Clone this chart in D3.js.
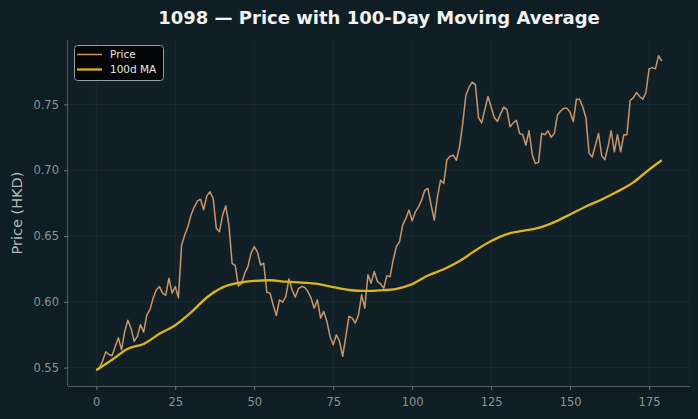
<!DOCTYPE html>
<html>
<head>
<meta charset="utf-8">
<script src="https://cdn.jsdelivr.net/npm/d3@7"></script>
<style>
html, body { margin: 0; padding: 0; background: #0f1e24; }
svg { display: block; font-family: "DejaVu Sans", sans-serif; }
</style>
</head>
<body>
<div id="chart"></div>
<script>
const title = '1098 \u2014 Price with 100-Day Moving Average';
const seriesNames = ['Price', '100d MA'];

// daily close, day 0..179
const price = [
    0.5485, 0.550, 0.555, 0.562, 0.560, 0.559, 0.566, 0.5725, 0.5636, 0.5775,
    0.586, 0.580, 0.570, 0.5737, 0.5826, 0.577, 0.590, 0.594, 0.6028, 0.609,
    0.6116, 0.6066, 0.605, 0.618, 0.6066, 0.6116, 0.603, 0.643, 0.6508, 0.657,
    0.666, 0.672, 0.6765, 0.678, 0.670, 0.6805, 0.6836, 0.6786, 0.656, 0.6533,
    0.666, 0.673, 0.658, 0.6293, 0.6275, 0.612, 0.614, 0.6217, 0.6267, 0.6369,
    0.6419, 0.638, 0.628, 0.6293, 0.6073, 0.6066, 0.5977, 0.5896, 0.6015, 0.5998,
    0.604, 0.6174, 0.609, 0.6036, 0.610, 0.6116, 0.611, 0.6078, 0.6028, 0.5952,
    0.6015, 0.5876, 0.5927, 0.5851, 0.5737, 0.5674, 0.575, 0.570, 0.5586, 0.5737,
    0.5889, 0.5876, 0.5839, 0.590, 0.6053, 0.5952, 0.6205, 0.6142, 0.623, 0.6154,
    0.6136, 0.6104, 0.6199, 0.619, 0.6318, 0.6419, 0.6457, 0.6583, 0.6634, 0.6697,
    0.6614, 0.6684, 0.6722, 0.6773, 0.6848, 0.6861, 0.6735, 0.6621, 0.6798, 0.6924,
    0.6899, 0.708, 0.7106, 0.7114, 0.7076, 0.7177, 0.7355, 0.7568, 0.7631, 0.7669,
    0.765, 0.740, 0.736, 0.746, 0.756, 0.748, 0.740, 0.737, 0.743, 0.748,
    0.746, 0.733, 0.736, 0.738, 0.728, 0.727, 0.719, 0.730, 0.712, 0.705,
    0.706, 0.728, 0.727, 0.730, 0.725, 0.728, 0.742, 0.745, 0.747, 0.747,
    0.744, 0.737, 0.754, 0.754, 0.748, 0.740, 0.713, 0.710, 0.719, 0.728,
    0.711, 0.708, 0.718, 0.730, 0.714, 0.727, 0.714, 0.727, 0.727, 0.753,
    0.755, 0.759, 0.756, 0.754, 0.759, 0.777, 0.778, 0.777, 0.787, 0.783
];

// moving average at these days
const maDays = [0, 5, 10, 15, 20, 25, 30, 35, 40, 45, 50, 55, 60, 65, 70, 75, 80, 85, 90,
    95, 100, 105, 110, 115, 120, 125, 130, 135, 140, 145, 150, 155, 160, 165, 170, 175, 179];
const maValues = [0.548, 0.556, 0.5644, 0.568, 0.5757, 0.5822, 0.592, 0.6033, 0.611, 0.6144,
    0.616, 0.6164, 0.6153, 0.6146, 0.6137, 0.6112, 0.609, 0.6083, 0.6087,
    0.6099, 0.6135, 0.620, 0.6247, 0.631, 0.639, 0.6462, 0.6515, 0.654, 0.6562, 0.6606,
    0.6664, 0.6725, 0.6778, 0.6838, 0.6908, 0.7005, 0.7076];

const xTicks = [0, 25, 50, 75, 100, 125, 150, 175];
const yTicks = [0.55, 0.60, 0.65, 0.70, 0.75];

const width = 698;
const height = 419;
const margin = {top: 40, right: 8, bottom: 33, left: 68};

const priceData = price.map((v, i) => [i, v]);
const maData = maDays.map((d, i) => [d, maValues[i]]);

const xMin = 0, xMax = price.length - 1;
const xPad = (xMax - xMin) * 0.05;
const allY = price.concat(maValues);
const yExt = d3.extent(allY);
const yPad = (yExt[1] - yExt[0]) * 0.05;

const scaleX = d3.scaleLinear()
.domain([xMin - xPad, xMax + xPad])
.range([margin.left, width - margin.right]);

const scaleY = d3.scaleLinear()
.domain([yExt[0] - yPad, yExt[1] + yPad])
.range([height - margin.bottom, margin.top]);

const svg = d3.select('#chart')
.append('svg')
.attr('width', width)
.attr('height', height);

svg.append('rect')
.attr('width', width)
.attr('height', height)
.attr('fill', '#0f1e24');

svg.append('rect')
.attr('x', margin.left)
.attr('y', margin.top)
.attr('width', width - margin.left - margin.right)
.attr('height', height - margin.top - margin.bottom)
.attr('fill', '#111f26');

// grid
const grid = svg.append('g').attr('stroke', '#ffffff').attr('stroke-opacity', 0.045);
grid.selectAll('.gx')
.data(xTicks)
.enter()
.append('line')
.attr('x1', d => scaleX(d))
.attr('x2', d => scaleX(d))
.attr('y1', margin.top)
.attr('y2', height - margin.bottom);
grid.selectAll('.gy')
.data(yTicks)
.enter()
.append('line')
.attr('x1', margin.left)
.attr('x2', width - margin.right)
.attr('y1', d => scaleY(d))
.attr('y2', d => scaleY(d));

const xAxis = d3.axisBottom(scaleX)
.tickValues(xTicks)
.tickFormat(d3.format('d'))
.tickSize(4)
.tickPadding(8);

const yAxis = d3.axisLeft(scaleY)
.tickValues(yTicks)
.tickFormat(d3.format('.2f'))
.tickSize(4)
.tickPadding(5);

const groupAxisX = svg.append('g')
.attr('transform', `translate(0, ${height - margin.bottom})`)
.call(xAxis);

const groupAxisY = svg.append('g')
.attr('transform', `translate(${margin.left}, 0)`)
.call(yAxis);

[groupAxisX, groupAxisY].forEach(g => {
    g.select('.domain').attr('stroke', '#555c60').attr('stroke-width', 1);
    g.selectAll('.tick line').attr('stroke', '#6c7276');
    g.selectAll('.tick text')
    .attr('fill', '#8d9397')
    .attr('font-size', 11.5)
    .attr('font-family', '"DejaVu Sans", sans-serif');
});
groupAxisX.select('.domain').attr('d', `M${margin.left},0.5H${width - margin.right}`);
groupAxisY.select('.domain').attr('d', `M-0.5,${margin.top}V${height - margin.bottom}`);

const lineGen = d3.line()
.x(d => scaleX(d[0]))
.y(d => scaleY(d[1]));

svg.append('path')
.datum(priceData)
.attr('fill', 'none')
.attr('stroke', '#c9976b')
.attr('stroke-width', 1.5)
.attr('stroke-linejoin', 'round')
.attr('d', lineGen);

svg.append('path')
.datum(maData)
.attr('fill', 'none')
.attr('stroke', '#dcb41e')
.attr('stroke-width', 2.3)
.attr('d', lineGen.curve(d3.curveMonotoneX));

svg.append('text')
.attr('x', (margin.left + width - margin.right) / 2)
.attr('y', 24)
.attr('text-anchor', 'middle')
.attr('fill', '#f2f2f2')
.attr('font-size', 18)
.attr('font-weight', 'bold')
.text(title);

svg.append('text')
.attr('transform', `translate(22, ${(margin.top + height - margin.bottom) / 2}) rotate(-90)`)
.attr('text-anchor', 'middle')
.attr('fill', '#b4b9bc')
.attr('font-size', 14.5)
.text('Price (HKD)');

// legend
const legend = svg.append('g').attr('transform', 'translate(74, 45)');
legend.append('rect')
.attr('x', 0.5)
.attr('y', 0.5)
.attr('width', 89)
.attr('height', 35)
.attr('rx', 3)
.attr('fill', '#030506')
.attr('stroke', '#9aa0a4')
.attr('stroke-width', 1);

const legendColors = ['#c9976b', '#dcb41e'];
const legendWidths = [1.5, 2.3];
const item = legend.selectAll('.item')
.data(seriesNames)
.enter()
.append('g')
.attr('transform', (d, i) => `translate(0, ${9.5 + i * 15})`);

item.append('line')
.attr('x1', 3)
.attr('x2', 28)
.attr('stroke', (d, i) => legendColors[i])
.attr('stroke-width', (d, i) => legendWidths[i]);

item.append('text')
.attr('x', 36)
.attr('y', 3.8)
.attr('fill', '#e8e8e8')
.attr('font-size', 10.5)
.text(d => d);
</script>
</body>
</html>
